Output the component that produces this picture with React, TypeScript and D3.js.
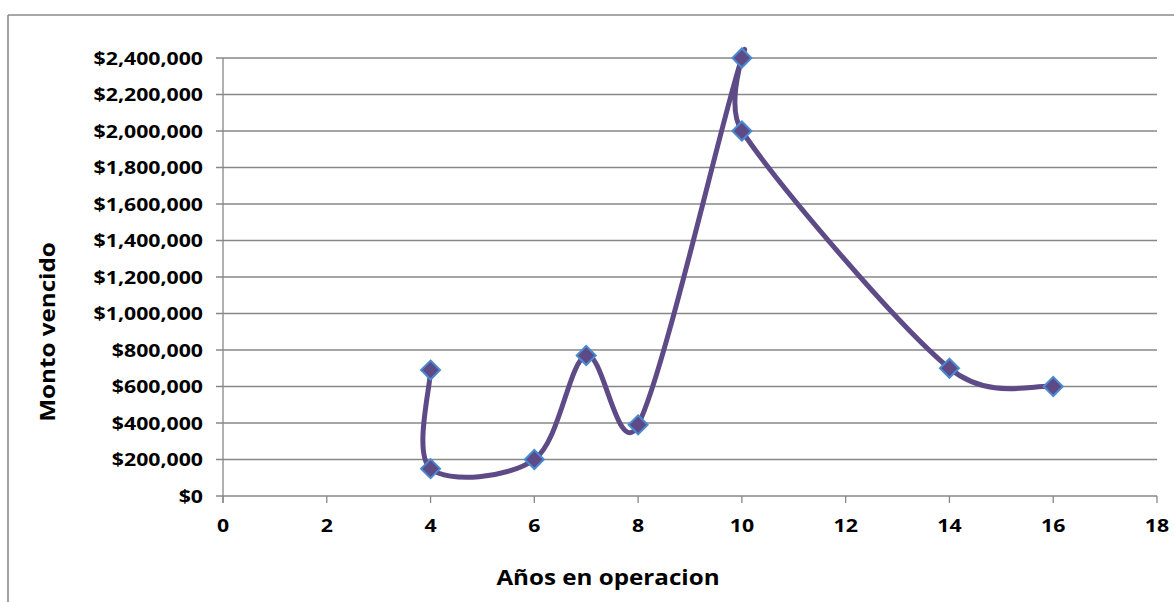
import React from "react";
import * as d3 from "d3";

const years = [4, 4, 6, 7, 8, 10, 10, 14, 16];
const amounts = [690000, 150000, 200000, 770000, 390000, 2400000, 2000000, 700000, 600000];
const xTicks = [0, 2, 4, 6, 8, 10, 12, 14, 16, 18];
const yTicks = [0, 200000, 400000, 600000, 800000, 1000000, 1200000, 1400000, 1600000, 1800000, 2000000, 2200000, 2400000];
const xTitle = "Años en operacion";
const yTitle = "Monto vencido";

type Pt = [number, number];

// Excel-style smoothed line (Bezier with limited tangent lengths)
function smoothPath(p: Pt[]): string {
  const path = d3.path();
  const dist = (a: Pt, b: Pt) => Math.hypot(a[0] - b[0], a[1] - b[1]);
  path.moveTo(p[0][0], p[0][1]);
  for (let i = 0; i < p.length - 1; i++) {
    const p0 = p[i - 1] ?? p[i];
    const p1 = p[i];
    const p2 = p[i + 1];
    const p3 = p[i + 2] ?? p[i + 1];
    const d02 = dist(p0, p2);
    const d12 = dist(p1, p2);
    const d13 = dist(p1, p3);
    let f0 = 1 / 6;
    let f3 = 1 / 6;
    if (d02 > 0 && d02 / 6 >= d12 / 2) f0 = d12 / 2 / d02;
    if (d13 > 0 && d13 / 6 >= d12 / 2) f3 = d12 / 2 / d13;
    path.bezierCurveTo(
      p1[0] + (p2[0] - p0[0]) * f0,
      p1[1] + (p2[1] - p0[1]) * f0,
      p2[0] - (p3[0] - p1[0]) * f3,
      p2[1] - (p3[1] - p1[1]) * f3,
      p2[0],
      p2[1]
    );
  }
  return path.toString();
}

export default function App() {
  const W = 1174, H = 602;
  const left = 223, right = 1157, top = 58, bottom = 496;
  const x = d3.scaleLinear().domain([0, 18]).range([left, right]);
  const y = d3.scaleLinear().domain([0, 2400000]).range([bottom, top]);
  const pts: Pt[] = years.map((v, i) => [x(v), y(amounts[i])]);
  const line = smoothPath(pts);
  const fmt = (v: number) => "$" + d3.format(",")(v);
  const font = "'Open Sans', sans-serif";
  const grid = "#878787";
  const purple = "#5e4a86";
  const blue = "#4a8ad0";
  const r = 9.5;
  const sx = 1.15;
  const tickFs = 18.5;
  const titleFs = 22;
  const tsx = 1.1;
  return (
    <svg width={W} height={H} style={{ position: "absolute", left: 0, top: 0, background: "#fff" }}>
      <line x1={8} y1={15} x2={W} y2={15} stroke="#8a8a8a" strokeWidth={1.6} />
      <line x1={8} y1={15} x2={8} y2={H} stroke="#8a8a8a" strokeWidth={1.6} />
      {yTicks.map((t) => (
        <g key={t}>
          <line x1={left - 7} x2={right} y1={y(t)} y2={y(t)} stroke={grid} strokeWidth={1.3} />
          <text
            transform={`translate(203,${y(t)}) scale(${sx},1)`}
            dy="0.357em"
            textAnchor="end"
            fontFamily={font}
            fontWeight={700}
            fontSize={tickFs}
            fill="#000"
          >
            {fmt(t)}
          </text>
        </g>
      ))}
      <line x1={left} x2={left} y1={top} y2={bottom + 7} stroke={grid} strokeWidth={1.3} />
      {xTicks.map((t) => (
        <g key={t}>
          <line x1={x(t)} x2={x(t)} y1={bottom} y2={bottom + 7} stroke={grid} strokeWidth={1.3} />
          <text
            transform={`translate(${x(t)},525) scale(${sx},1)`}
            dy="0.357em"
            textAnchor="middle"
            fontFamily={font}
            fontWeight={700}
            fontSize={tickFs}
            fill="#000"
          >
            {t}
          </text>
        </g>
      ))}
      <path d={line} fill="none" stroke={purple} strokeWidth={5} strokeLinejoin="round" strokeLinecap="round" />
      {pts.map(([px, py], i) => (
        <path
          key={i}
          d={`M${px},${py - r}L${px + r},${py}L${px},${py + r}L${px - r},${py}Z`}
          fill={purple}
          stroke={blue}
          strokeWidth={2}
        />
      ))}
      <text
        transform={`translate(608,585) scale(${tsx},1)`}
        textAnchor="middle"
        fontFamily={font}
        fontWeight={700}
        fontSize={titleFs}
        fill="#000"
      >
        {xTitle}
      </text>
      <text
        transform={`translate(55,332) rotate(-90) scale(${tsx},1)`}
        textAnchor="middle"
        fontFamily={font}
        fontWeight={700}
        fontSize={titleFs}
        fill="#000"
      >
        {yTitle}
      </text>
    </svg>
  );
}
